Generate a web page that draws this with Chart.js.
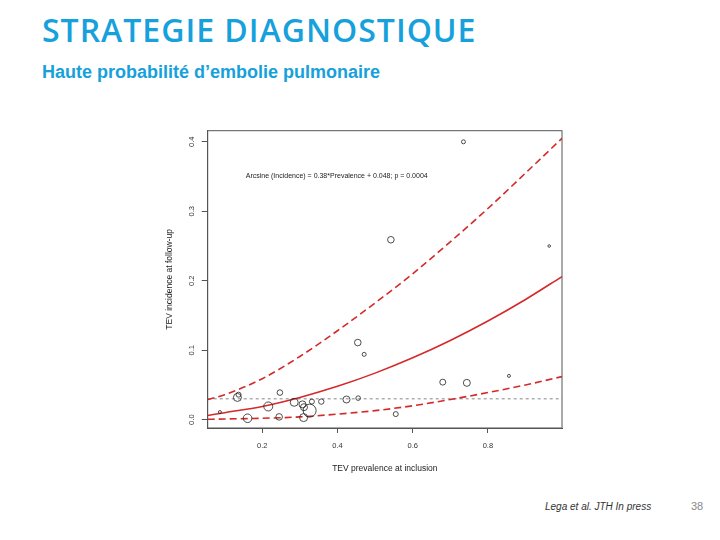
<!DOCTYPE html>
<html>
<head>
<meta charset="utf-8">
<script src="https://cdn.jsdelivr.net/npm/chart.js@4.4.1/dist/chart.umd.min.js"></script>
<style>
  html, body { margin: 0; padding: 0; background: #fff; }
  body { width: 720px; height: 540px; position: relative; overflow: hidden; }
  #title { position: absolute; left: 42px; top: 13.5px; line-height: 1; font-family: "Open Sans", sans-serif; font-weight: 600; font-size: 32px; letter-spacing: 1px; color: #16a1dc; white-space: nowrap; }
  #subtitle { position: absolute; left: 42px; top: 63px; line-height: 1; font-family: "Liberation Sans", Arial, sans-serif; font-weight: bold; font-size: 18px; color: #16a1dc; white-space: nowrap; }
  #source { position: absolute; left: 545px; top: 501px; font-family: "Liberation Sans", Arial, sans-serif; font-style: italic; font-size: 10px; color: #333; }
  #page { position: absolute; left: 691px; top: 500px; font-family: "Liberation Sans", Arial, sans-serif; font-size: 11px; color: #888; }
  #wrap { position: absolute; left: 150px; top: 120px; width: 430px; height: 370px; }
</style>
</head>
<body>
<div id="title">STRATEGIE DIAGNOSTIQUE</div>
<div id="subtitle">Haute probabilité d’embolie pulmonaire</div>
<div id="wrap"><canvas id="meta-chart" width="430" height="370"></canvas></div>
<div id="source">Lega et al. JTH In press</div>
<div id="page">38</div>
<script>
// studies: prevalence at inclusion vs incidence at follow-up, bubble = study weight
const prevalence = [0.735, 0.542, 0.963, 0.454, 0.471, 0.680, 0.744, 0.856, 0.555, 0.455,
                    0.424, 0.357, 0.332, 0.326, 0.310, 0.311, 0.307, 0.285, 0.247, 0.245,
                    0.216, 0.161, 0.134, 0.137, 0.0875];
const incidence = [0.400, 0.259, 0.250, 0.111, 0.094, 0.054, 0.053, 0.063, 0.008, 0.031,
                   0.029, 0.026, 0.026, 0.013, 0.003, 0.018, 0.022, 0.025, 0.039, 0.004,
                   0.019, 0.002, 0.032, 0.036, 0.011];
const weights = [2, 3.3, 1.3, 3.3, 2, 3, 3.5, 1.5, 2.5, 2.3,
                 3.5, 2.7, 2.5, 6.5, 4, 3.5, 3.5, 4, 2.8, 3.3,
                 4.5, 4.3, 4, 2.5, 1.5];

// fitted curve and confidence band
const curveX   = [0.055, 0.1, 0.2, 0.3, 0.4, 0.5, 0.6, 0.7, 0.8, 0.9, 0.997];
const fitMid   = [0.006, 0.010, 0.019, 0.032, 0.048, 0.067, 0.089, 0.114, 0.142, 0.173, 0.206];
const fitUpper = [0.029, 0.036, 0.059, 0.091, 0.128, 0.168, 0.210, 0.256, 0.304, 0.355, 0.405];
const fitLower = [0.0005, 0.001, 0.002, 0.004, 0.008, 0.013, 0.020, 0.029, 0.039, 0.050, 0.062];

const refLevel = 0.03;
const xTicks = [0.2, 0.4, 0.6, 0.8];
const yTicks = [0.0, 0.1, 0.2, 0.3, 0.4];

const red = '#d42a2a';
const axisColor = '#555';

function toPoints(xs, ys) {
    return xs.map((x, i) => ({ x: x, y: ys[i] }));
}

// box around the plot region + equation text
const framePlugin = {
    id: 'frame',
    afterDatasetsDraw(chart) {
        const { ctx, chartArea: a, scales } = chart;
        ctx.save();
        ctx.strokeStyle = axisColor;
        ctx.lineWidth = 1;
        ctx.strokeRect(a.left, a.top, a.right - a.left, a.bottom - a.top);
        ctx.fillStyle = '#222';
        ctx.font = '7px "Liberation Sans", Arial, sans-serif';
        ctx.textAlign = 'center';
        ctx.textBaseline = 'middle';
        ctx.fillText('Arcsine (Incidence) = 0.38*Prevalence + 0.048; p = 0.0004',
            scales.x.getPixelForValue(0.398), scales.y.getPixelForValue(0.3506));
        ctx.restore();
    }
};

const ctx = document.getElementById('meta-chart').getContext('2d');
const chart = new Chart(ctx, {
    type: 'bubble',
    data: {
        datasets: [
            {
                label: 'Studies',
                data: prevalence.map((x, i) => ({ x: x, y: incidence[i], r: weights[i] })),
                backgroundColor: 'rgba(0,0,0,0)',
                borderColor: '#222',
                borderWidth: 0.8,
                order: 1
            },
            {
                type: 'line',
                label: 'Reference',
                data: [{ x: 0.055, y: refLevel }, { x: 0.997, y: refLevel }],
                borderColor: '#888',
                borderWidth: 1,
                borderDash: [3, 3],
                pointRadius: 0,
                order: 5
            },
            {
                type: 'line',
                label: 'Fit',
                data: toPoints(curveX, fitMid),
                borderColor: red,
                borderWidth: 1.6,
                pointRadius: 0,
                cubicInterpolationMode: 'monotone',
                order: 2
            },
            {
                type: 'line',
                label: 'Upper',
                data: toPoints(curveX, fitUpper),
                borderColor: red,
                borderWidth: 1.6,
                borderDash: [7, 4],
                pointRadius: 0,
                cubicInterpolationMode: 'monotone',
                order: 3
            },
            {
                type: 'line',
                label: 'Lower',
                data: toPoints(curveX, fitLower),
                borderColor: red,
                borderWidth: 1.6,
                borderDash: [7, 4],
                pointRadius: 0,
                cubicInterpolationMode: 'monotone',
                order: 4
            }
        ]
    },
    options: {
        responsive: false,
        animation: false,
        layout: { padding: { top: 10.7, right: 18, left: 0, bottom: 0 } },
        plugins: {
            legend: { display: false },
            tooltip: { enabled: false }
        },
        scales: {
            x: {
                type: 'linear',
                min: 0.055,
                max: 0.997,
                afterBuildTicks: (scale) => { scale.ticks = xTicks.map(v => ({ value: v })); },
                afterFit: (scale) => { scale.height = 62; },
                grid: { drawOnChartArea: false, drawTicks: true, tickLength: 5, color: axisColor },
                border: { display: true, color: axisColor },
                ticks: {
                    padding: 8,
                    color: '#333',
                    font: { family: '"Liberation Sans", Arial, sans-serif', size: 7.5 },
                    callback: (v) => v.toFixed(1)
                },
                title: {
                    display: true,
                    text: 'TEV prevalence at inclusion',
                    color: '#222',
                    font: { family: '"Liberation Sans", Arial, sans-serif', size: 8.5 },
                    padding: { top: 0, bottom: 16 }
                }
            },
            y: {
                type: 'linear',
                min: -0.012,
                max: 0.416,
                afterBuildTicks: (scale) => { scale.ticks = yTicks.map(v => ({ value: v })); },
                afterFit: (scale) => { scale.width = 57.7; },
                grid: { drawOnChartArea: false, drawTicks: true, tickLength: 6, color: axisColor },
                border: { display: true, color: axisColor },
                ticks: {
                    padding: 5,
                    minRotation: 90,
                    maxRotation: 90,
                    crossAlign: 'center',
                    color: '#333',
                    font: { family: '"Liberation Sans", Arial, sans-serif', size: 7.5 },
                    callback: (v) => v.toFixed(1)
                },
                title: {
                    display: true,
                    text: 'TEV incidence at follow-up',
                    color: '#222',
                    font: { family: '"Liberation Sans", Arial, sans-serif', size: 8.5 },
                    padding: { top: 14.5, bottom: 0 }
                }
            }
        }
    },
    plugins: [framePlugin]
});
</script>
</body>
</html>
